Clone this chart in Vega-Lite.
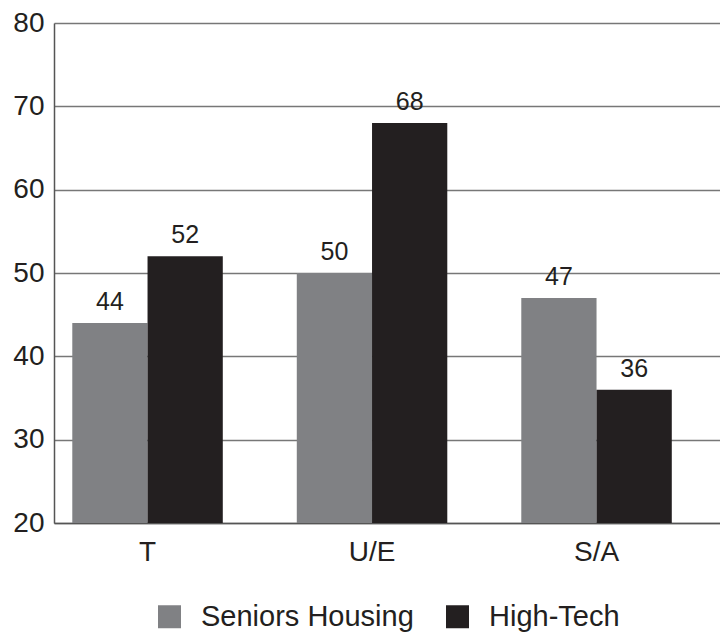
{
  "$schema": "https://vega.github.io/schema/vega-lite/v6.json",
  "width": 666,
  "height": 500,
  "autosize": "none",
  "padding": {"left": 54, "top": 23, "right": 0, "bottom": 110},
  "background": "white",
  "config": {
    "font": "Liberation Sans",
    "view": {"stroke": null},
    "axis": {
      "labelFont": "Liberation Sans",
      "labelColor": "#231f20",
      "domainColor": "#555555",
      "domainWidth": 1.5,
      "gridColor": "#777777",
      "gridWidth": 1.5,
      "ticks": false,
      "title": null
    }
  },
  "data": {
    "values": [
      {"group": "T", "series": "Seniors Housing", "value": 44},
      {"group": "T", "series": "High-Tech", "value": 52},
      {"group": "U/E", "series": "Seniors Housing", "value": 50},
      {"group": "U/E", "series": "High-Tech", "value": 68},
      {"group": "S/A", "series": "Seniors Housing", "value": 47},
      {"group": "S/A", "series": "High-Tech", "value": 36}
    ]
  },
  "encoding": {
    "x": {
      "field": "group",
      "type": "nominal",
      "sort": ["T", "U/E", "S/A"],
      "scale": {"paddingInner": 0.3296, "paddingOuter": 0.1481, "align": 0.275},
      "axis": {
        "labelAngle": 0,
        "labelFontSize": 28,
        "labelPadding": 15,
        "grid": false,
        "domain": true
      }
    },
    "xOffset": {
      "field": "series",
      "type": "nominal",
      "sort": ["Seniors Housing", "High-Tech"]
    },
    "y": {
      "field": "value",
      "type": "quantitative",
      "scale": {"domain": [20, 80], "nice": false, "zero": false},
      "axis": {
        "values": [20, 30, 40, 50, 60, 70, 80],
        "labelFontSize": 28,
        "labelPadding": 10,
        "grid": true
      }
    }
  },
  "layer": [
    {
      "mark": {"type": "bar", "clip": true},
      "encoding": {
        "color": {
          "field": "series",
          "type": "nominal",
          "sort": ["Seniors Housing", "High-Tech"],
          "scale": {"domain": ["Seniors Housing", "High-Tech"], "range": ["#808184", "#231f20"]},
          "legend": {
            "title": null,
            "orient": "none",
            "direction": "horizontal",
            "legendX": 101,
            "legendY": 579,
            "symbolType": "square",
            "symbolSize": 529,
            "symbolStrokeWidth": 0,
            "symbolOpacity": 1,
            "labelFontSize": 29,
            "labelFont": "Liberation Sans",
            "labelColor": "#231f20",
            "labelOffset": 17,
            "columnPadding": 29,
            "padding": 0,
            "labelLimit": 400
          }
        }
      }
    },
    {
      "mark": {"type": "text", "baseline": "bottom", "dy": -8, "fontSize": 25, "color": "#231f20"},
      "encoding": {
        "text": {"field": "value", "type": "quantitative"}
      }
    }
  ]
}
